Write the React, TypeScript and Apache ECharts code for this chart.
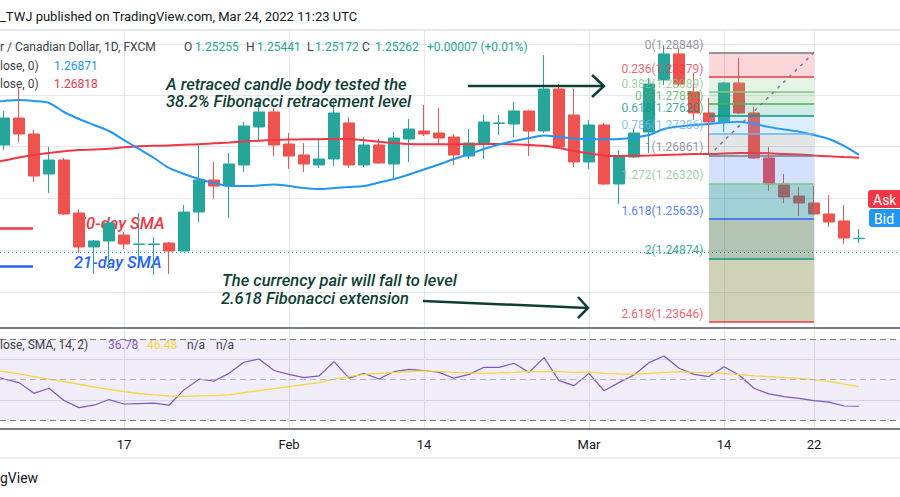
import React, { useEffect, useRef } from "react";
import * as echarts from "echarts";

// ---------- data ----------
const tickIdx = [8, 19, 28, 39, 48, 54];
const tickLabels = ["17", "Feb", "14", "Mar", "14", "22"];

// [open, close, low, high] per daily candle, index 0..57
const candles: number[][] = [
  [1.27063, 1.27584, 1.26966, 1.27719],
  [1.27584, 1.27275, 1.27121, 1.28163],
  [1.27275, 1.26464, 1.26349, 1.27352],
  [1.26503, 1.26773, 1.26136, 1.27024],
  [1.26773, 1.25731, 1.25711, 1.26812],
  [1.2575, 1.25094, 1.24978, 1.25827],
  [1.25094, 1.2521, 1.24572, 1.25229],
  [1.2521, 1.25557, 1.24669, 1.25634],
  [1.25325, 1.25152, 1.25055, 1.25383],
  [1.25142, 1.25152, 1.24804, 1.2575],
  [1.25142, 1.25152, 1.24553, 1.25287],
  [1.25171, 1.25016, 1.24572, 1.2519],
  [1.25016, 1.25769, 1.2501, 1.25905],
  [1.25769, 1.26387, 1.25576, 1.27063],
  [1.26387, 1.26271, 1.2604, 1.26735],
  [1.26271, 1.26696, 1.25654, 1.26908],
  [1.26677, 1.2743, 1.26542, 1.27507],
  [1.2741, 1.277, 1.27159, 1.27893],
  [1.277, 1.27063, 1.2685, 1.27777],
  [1.27082, 1.2685, 1.266, 1.27294],
  [1.2687, 1.26696, 1.26542, 1.27101],
  [1.26677, 1.26793, 1.26619, 1.27198],
  [1.26793, 1.27681, 1.26657, 1.27912],
  [1.27488, 1.26677, 1.26619, 1.27603],
  [1.26677, 1.27063, 1.26638, 1.27217],
  [1.27063, 1.26715, 1.26696, 1.27179],
  [1.26696, 1.27198, 1.26426, 1.27314],
  [1.27179, 1.27372, 1.26735, 1.27565],
  [1.27333, 1.27275, 1.27237, 1.27835],
  [1.27294, 1.27198, 1.27082, 1.27777],
  [1.27217, 1.2687, 1.26677, 1.27275],
  [1.2685, 1.27101, 1.26793, 1.27372],
  [1.27082, 1.27507, 1.26793, 1.27642],
  [1.27478, 1.27488, 1.27256, 1.27642],
  [1.27468, 1.27719, 1.27217, 1.27893],
  [1.27719, 1.27333, 1.2685, 1.27738],
  [1.27333, 1.28144, 1.27294, 1.288],
  [1.28144, 1.27024, 1.27005, 1.2824],
  [1.27642, 1.26735, 1.26638, 1.28144],
  [1.26735, 1.27449, 1.266, 1.27545],
  [1.27449, 1.2631, 1.26291, 1.27488],
  [1.2631, 1.2685, 1.25924, 1.26966],
  [1.26831, 1.27294, 1.26812, 1.27391],
  [1.27314, 1.2824, 1.26908, 1.28356],
  [1.28318, 1.2882, 1.28221, 1.2899],
  [1.2882, 1.2824, 1.28202, 1.28935],
  [1.28086, 1.27681, 1.27545, 1.28453],
  [1.27681, 1.27507, 1.26908, 1.2797],
  [1.27507, 1.2826, 1.27314, 1.28279],
  [1.2826, 1.27681, 1.27661, 1.28742],
  [1.27681, 1.26812, 1.26793, 1.27796],
  [1.26812, 1.2631, 1.26175, 1.27024],
  [1.2631, 1.26059, 1.25943, 1.26503],
  [1.26078, 1.25943, 1.25692, 1.26252],
  [1.25943, 1.25731, 1.25725, 1.26271],
  [1.25731, 1.25576, 1.2548, 1.26098],
  [1.25596, 1.25267, 1.25152, 1.25905],
  [1.25255, 1.25262, 1.25172, 1.25441],
];

// indicator series start one bar before the first visible candle (index -1)
const LINE_START = -1;
const sma21 = [
  1.27893, 1.27912, 1.27932, 1.27912, 1.27874, 1.277, 1.27565, 1.27449, 1.27333, 1.27159,
  1.26986, 1.26812, 1.26619, 1.26503, 1.26406, 1.26329, 1.26277, 1.26271, 1.26281, 1.263,
  1.26271, 1.26233, 1.26213, 1.26233, 1.26252, 1.26271, 1.26338, 1.26406, 1.26493, 1.2659,
  1.26686, 1.26793, 1.26889, 1.26986, 1.27072, 1.2714, 1.27198, 1.27246, 1.27217, 1.27188,
  1.27173, 1.27173, 1.27179, 1.27208, 1.27256, 1.27372, 1.2742, 1.27449, 1.27468, 1.27497,
  1.27513, 1.27468, 1.2741, 1.27362, 1.2732, 1.27256, 1.27179, 1.27044, 1.26871,
];
const sma50 = [
  1.26715, 1.26764, 1.26821, 1.2687, 1.26908, 1.26941, 1.26966, 1.26976, 1.26991, 1.27018,
  1.27038, 1.27049, 1.27053, 1.27067, 1.27076, 1.27096, 1.27111, 1.2713, 1.27146, 1.27159,
  1.27169, 1.27173, 1.27175, 1.27179, 1.27179, 1.27153, 1.27126, 1.27101, 1.27082, 1.27076,
  1.27076, 1.27076, 1.27078, 1.27082, 1.27082, 1.27076, 1.27063, 1.27049, 1.27005, 1.26947,
  1.26903, 1.2686, 1.2685, 1.26854, 1.2686, 1.2687, 1.26879, 1.26889, 1.26889, 1.26899,
  1.26908, 1.26908, 1.26903, 1.26889, 1.26879, 1.2686, 1.26845, 1.2683, 1.26818,
];
const rsi = [
  52.3, 50.3, 48.5, 43.2, 45.7, 39.6, 36.1, 37.3, 40.1, 37.9,
  38.1, 38.3, 37.3, 44.9, 50.2, 49.3, 53.1, 58.6, 60.2, 54.5,
  52.6, 51.0, 51.8, 58.9, 50.7, 53.1, 50.3, 54.0, 55.1, 54.5,
  53.6, 50.7, 52.6, 56.1, 56.1, 58.1, 53.6, 60.9, 49.5, 47.0,
  53.1, 44.5, 48.5, 52.3, 58.4, 61.7, 55.6, 52.6, 51.5, 56.4,
  52.3, 45.7, 42.9, 41.6, 40.7, 39.6, 38.8, 36.9, 36.78,
];
const rsiMa = [
  54.8, 54.0, 52.8, 51.5, 50.2, 49.0, 47.7, 46.4, 45.2, 44.0,
  43.1, 42.4, 41.9, 41.7, 41.9, 42.1, 42.4, 43.5, 44.5, 45.5,
  46.5, 47.5, 48.5, 50.2, 51.5, 52.6, 53.1, 53.6, 54.0, 54.3,
  54.1, 53.6, 53.3, 53.1, 53.3, 53.6, 54.0, 54.1, 54.0, 53.6,
  53.8, 53.1, 52.8, 52.6, 53.1, 53.6, 54.0, 53.6, 53.5, 53.1,
  52.5, 51.8, 51.5, 51.0, 50.6, 50.0, 49.0, 47.8, 46.48,
];

const fibRatios = ["0", "0.236", "0.382", "0.5", "0.618", "0.786", "1", "1.272", "1.618", "2", "2.618"];
const fibPrices = [1.28848, 1.28379, 1.28089, 1.27854, 1.2762, 1.27286, 1.26861, 1.2632, 1.25633, 1.24874, 1.23646];
const fibColors = ["#787b86", "#f23645", "#81c784", "#4caf50", "#089981", "#64b5f6", "#787b86", "#81c784", "#2962ff", "#089981", "#f23645"];
const fibFills = [
  "rgba(242,54,69,0.2)", "rgba(129,199,132,0.2)", "rgba(76,175,80,0.2)", "rgba(8,153,129,0.2)",
  "rgba(100,181,246,0.22)", "rgba(120,123,134,0.2)", "rgba(41,98,255,0.2)", "rgba(20,140,150,0.4)",
  "rgba(70,110,70,0.4)", "rgba(120,125,50,0.35)",
];
const fibStartIdx = 47;
const fibEndIdx = 54;

const priceGrid = [1.29013, 1.28028, 1.27034, 1.2604, 1.25036, 1.24225];
const rsiGrid = [40, 60];
const rsiBands = [30, 50, 70];
const lastClose = 1.25262;

// ---------- component ----------
const FONT = "Roboto, 'Noto Sans', sans-serif";
const UP = "#26a69a";
const DOWN = "#ef5350";
const NOTE = "#0e3f33";
const LEG = "#3c3f48";

function txt(x: number, y: number, text: string, fill: string, size = 12, extra: any = {}, z = 20) {
  return {
    type: "text",
    x,
    y,
    z,
    silent: true,
    style: { text, fill, fontSize: size, fontFamily: FONT, verticalAlign: "middle", ...extra },
  };
}

export default function App() {
  const ref = useRef<HTMLDivElement>(null);
  useEffect(() => {
    const chart = echarts.init(ref.current!, null, { renderer: "svg" });
    const xMin = -0.26667;
    const xMax = 59.73333;

    const candleData = candles.map((c, i) => [i, c[0], c[1], c[2], c[3]]);
    const toLine = (arr: number[]) => arr.map((v, i) => [i + LINE_START, v]);

    const fibAreas = fibFills.map((c, i) => [
      { xAxis: fibStartIdx, yAxis: fibPrices[i], itemStyle: { color: c } },
      { xAxis: fibEndIdx, yAxis: fibPrices[i + 1] },
    ]);
    const fibLines: any[] = fibPrices.map((p, i) => [
      { coord: [fibStartIdx, p], lineStyle: { color: fibColors[i], width: 1.5, type: "solid" } },
      { coord: [fibEndIdx, p] },
    ]);
    fibLines.push([
      { coord: [fibStartIdx, fibPrices[6]], lineStyle: { color: "#787b86", width: 1.5, type: [3, 5] } },
      { coord: [fibEndIdx, fibPrices[0]] },
    ]);

    const xAxisBase = (gridIndex: number, showLabel: boolean) => ({
      type: "value",
      gridIndex,
      min: xMin,
      max: xMax,
      axisLine: { show: true, onZero: false, lineStyle: { color: "#50535e", width: 1.5 } },
      axisTick: { show: false, customValues: tickIdx },
      axisLabel: {
        show: showLabel,
        customValues: tickIdx,
        formatter: (v: number) => tickLabels[tickIdx.indexOf(Math.round(v))] ?? "",
        color: "#131722",
        fontSize: 13,
        fontFamily: FONT,
        margin: 9,
      },
      splitLine: { show: true, lineStyle: { color: "#e3e7ee", width: 1 } },
    });

    const option: any = {
      animation: false,
      backgroundColor: "#ffffff",
      grid: [
        { left: 0, top: 30, width: 900, height: 298, outerBoundsMode: "none", containLabel: false },
        { left: 0, top: 330, width: 900, height: 99, outerBoundsMode: "none", containLabel: false },
      ],
      xAxis: [xAxisBase(0, false), xAxisBase(1, true)],
      yAxis: [
        {
          type: "value",
          gridIndex: 0,
          min: 1.2353,
          max: 1.29283,
          axisLine: { show: false },
          axisLabel: { show: false },
          axisTick: { show: false, customValues: priceGrid },
          splitLine: { show: true, lineStyle: { color: "#e3e7ee", width: 1 } },
        },
        {
          type: "value",
          gridIndex: 1,
          min: 25.5,
          max: 74.6,
          axisLine: { show: false },
          axisLabel: { show: false },
          axisTick: { show: false, customValues: rsiGrid },
          splitLine: { show: true, lineStyle: { color: "#dde1ea", width: 1 } },
        },
      ],
      series: [
        {
          type: "candlestick",
          xAxisIndex: 0,
          yAxisIndex: 0,
          z: 3,
          data: candleData,
          encode: { x: 0, y: [1, 2, 3, 4] },
          barWidth: 11,
          itemStyle: { color: UP, color0: DOWN, borderColor: UP, borderColor0: DOWN, borderWidth: 1 },
          markLine: {
            silent: true,
            symbol: ["none", "none"],
            label: { show: false },
            lineStyle: { type: [1, 3], color: UP, width: 1 },
            data: [{ yAxis: lastClose }],
          },
        },
        {
          type: "line",
          xAxisIndex: 0,
          yAxisIndex: 0,
          z: 4,
          data: toLine(sma50),
          showSymbol: false,
          symbol: "none",
          smooth: 0.3,
          lineStyle: { color: "#f23645", width: 2 },
        },
        {
          type: "line",
          xAxisIndex: 0,
          yAxisIndex: 0,
          z: 4,
          data: toLine(sma21),
          showSymbol: false,
          symbol: "none",
          smooth: 0.3,
          lineStyle: { color: "#2196f3", width: 2 },
        },
        {
          type: "line",
          xAxisIndex: 0,
          yAxisIndex: 0,
          z: 6,
          data: [],
          silent: true,
          markArea: { silent: true, z: 6, data: fibAreas },
          markLine: { silent: true, z: 7, symbol: ["none", "none"], label: { show: false }, data: fibLines },
        },
        {
          type: "scatter",
          xAxisIndex: 0,
          yAxisIndex: 0,
          z: 8,
          silent: true,
          symbolSize: 1,
          itemStyle: { color: "rgba(0,0,0,0)" },
          data: fibPrices.map((p, i) => ({
            value: [fibStartIdx, p],
            label: { color: fibColors[i], formatter: `${fibRatios[i]}(${p.toFixed(5)})` },
          })),
          label: {
            show: true,
            position: "left",
            distance: 5,
            offset: [0, -8],
            fontSize: 12,
            fontFamily: FONT,
          },
        },
        {
          type: "line",
          xAxisIndex: 1,
          yAxisIndex: 1,
          z: 3,
          data: toLine(rsi),
          showSymbol: false,
          symbol: "none",
          lineStyle: { color: "#7e57c2", width: 1.2 },
          markArea: {
            silent: true,
            itemStyle: { color: "rgba(126,87,194,0.1)" },
            data: [[{ yAxis: rsiBands[0] }, { yAxis: rsiBands[2] }]],
          },
          markLine: {
            silent: true,
            symbol: ["none", "none"],
            label: { show: false },
            data: rsiBands.map((v, i) => ({
              yAxis: v,
              lineStyle: { color: i === 1 ? "#b2b5be" : "#787b86", type: [6, 4], width: 1 },
            })),
          },
        },
        {
          type: "line",
          xAxisIndex: 1,
          yAxisIndex: 1,
          z: 3,
          data: toLine(rsiMa),
          showSymbol: false,
          symbol: "none",
          lineStyle: { color: "#f5d63d", width: 1.3 },
        },
      ],
      graphic: [
        { type: "rect", z: 20, shape: { x: 0, y: 29, width: 900, height: 2 }, style: { fill: "#e6e9ee" } },
        txt(0, 16, "_TWJ published on TradingView.com, Mar 24, 2022 11:23 UTC", "#131722", 13),
        txt(0, 47, "r / Canadian Dollar, 1D, FXCM", LEG),
        txt(184, 47, "O", LEG),
        txt(195, 47, "1.25255", UP),
        txt(246, 47, "H", LEG),
        txt(257, 47, "1.25441", UP),
        txt(307, 47, "L", LEG),
        txt(315, 47, "1.25172", UP),
        txt(362, 47, "C", LEG),
        txt(375, 47, "1.25262", UP),
        txt(427, 47, "+0.00007 (+0.01%)", UP),
        txt(0, 65.5, "lose, 0)", LEG),
        txt(54, 65.5, "1.26871", "#2196f3"),
        txt(0, 84, "lose, 0)", LEG),
        txt(54, 84, "1.26818", "#f23645"),
        txt(166, 84, "A retraced candle body tested the", NOTE, 16.5, { fontStyle: "italic", fontWeight: 500 }),
        txt(166, 101.5, "38.2% Fibonacci retracement level", NOTE, 16.5, { fontStyle: "italic", fontWeight: 500 }),
        {
          type: "polyline", z: 20, silent: true,
          shape: { points: [[468, 86], [604, 86]] },
          style: { stroke: NOTE, lineWidth: 2.5, fill: null },
        },
        {
          type: "polyline", z: 20, silent: true,
          shape: { points: [[592, 75], [604, 86], [592, 97]] },
          style: { stroke: NOTE, lineWidth: 2.5, fill: null },
        },
        txt(222, 280, "The currency pair will fall to level", NOTE, 16.5, { fontStyle: "italic", fontWeight: 500 }),
        txt(221, 298, "2.618 Fibonacci extension", NOTE, 16.5, { fontStyle: "italic", fontWeight: 500 }),
        {
          type: "polyline", z: 20, silent: true,
          shape: { points: [[423, 301], [588, 308]] },
          style: { stroke: NOTE, lineWidth: 2.5, fill: null },
        },
        {
          type: "polyline", z: 20, silent: true,
          shape: { points: [[578, 297], [588, 308], [578, 318]] },
          style: { stroke: NOTE, lineWidth: 2.5, fill: null },
        },
        txt(77, 223, "50-day SMA", "#f23645", 16.5, { fontStyle: "italic", fontWeight: 500 }, 1),
        txt(74, 262, "21-day SMA", "#2962ff", 16.5, { fontStyle: "italic", fontWeight: 500 }, 1),
        {
          type: "line", z: 20, silent: true,
          shape: { x1: 0, y1: 228.5, x2: 33, y2: 228.5 },
          style: { stroke: "#f23645", lineWidth: 2.5 },
        },
        {
          type: "line", z: 20, silent: true,
          shape: { x1: 0, y1: 266.5, x2: 33, y2: 266.5 },
          style: { stroke: "#2962ff", lineWidth: 2.5 },
        },
        {
          type: "rect", z: 20, silent: true,
          shape: { x: 868, y: 190, width: 32, height: 18, r: [3, 0, 0, 3] },
          style: { fill: "#f23645" },
        },
        txt(873, 199.5, "Ask", "#ffffff", 14),
        {
          type: "rect", z: 20, silent: true,
          shape: { x: 869, y: 209, width: 31, height: 18, r: [3, 0, 0, 3] },
          style: { fill: "#2196f3" },
        },
        txt(874, 218.5, "Bid", "#ffffff", 14),
        txt(0, 345, "lose, SMA, 14, 2)", LEG),
        txt(108, 345, "36.78", "#7e57c2"),
        txt(147, 345, "46.48", "#f5d63d"),
        txt(187, 345, "n/a", LEG),
        txt(216, 345, "n/a", LEG),
        { type: "rect", z: 20, shape: { x: 0, y: 457, width: 900, height: 2 }, style: { fill: "#eceef2" } },
        txt(0, 478, "gView", "#131722", 14),
      ],
    };

    chart.setOption(option);
    return () => chart.dispose();
  }, []);

  return (
    <div
      ref={ref}
      style={{ position: "fixed", left: 0, top: 0, width: 900, height: 497, background: "#ffffff" }}
    />
  );
}
